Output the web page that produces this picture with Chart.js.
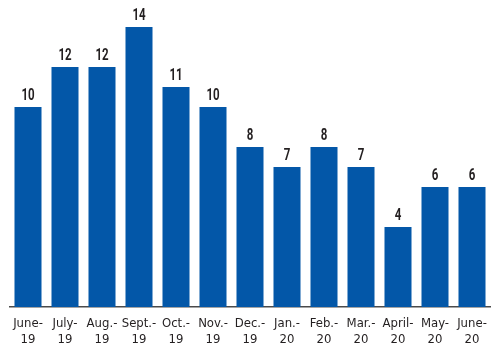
<!DOCTYPE html>
<html><head><meta charset="utf-8">
<script src="https://cdn.jsdelivr.net/npm/chart.js@4/dist/chart.umd.min.js"></script>
<style>html,body{margin:0;padding:0;background:#fff}#wrap{width:500px;height:352px}</style>
</head><body><div id="wrap"><canvas id="c"></canvas></div>
<script>
const categories = [["June-","19"],["July-","19"],["Aug.-","19"],["Sept.-","19"],["Oct.-","19"],["Nov.-","19"],["Dec.-","19"],["Jan.-","20"],["Feb.-","20"],["Mar.-","20"],["April-","20"],["May-","20"],["June-","20"]];
const values = [10,12,12,14,11,10,8,7,8,7,4,6,6];

const valueLabels = {
  id: 'valueLabels',
  afterDatasetsDraw(chart) {
    const ctx = chart.ctx;
    const meta = chart.getDatasetMeta(0);
    ctx.save();
    ctx.fillStyle = '#231f20';
    ctx.font = 'bold 16px Roboto';
    ctx.textAlign = 'center';
    ctx.textBaseline = 'alphabetic';
    meta.data.forEach((el, i) => {
      ctx.save();
      ctx.translate(el.x, el.y - 7);
      ctx.scale(0.72, 1);
      ctx.fillText(String(values[i]), 0, 0);
      ctx.restore();
    });
    ctx.restore();
  }
};

new Chart(document.getElementById('c'), {
  type: 'bar',
  data: { labels: categories, datasets: [{ data: values, backgroundColor: '#0357a8', barPercentage: 0.73, categoryPercentage: 1 }] },
  options: {
    responsive: true, maintainAspectRatio: false, animation: false,
    layout: { padding: { left: 9.5, right: 9.5, top: 7, bottom: 0 } },
    plugins: { legend: { display: false }, tooltip: { enabled: false } },
    scales: {
      x: {
        grid: { display: false, drawTicks: false },
        border: { display: true, color: '#4a4a4a', width: 1.5 },
        ticks: { color: '#231f20', font: { family: '"DejaVu Sans Condensed", Roboto', size: 13, weight: '500' }, padding: 9, maxRotation: 0, autoSkip: false, lineHeight: 1.2 },
        afterFit(s) { s.height = 45; }
      },
      y: { display: false, min: 0, max: 15 }
    }
  },
  plugins: [valueLabels]
});
</script></body></html>
